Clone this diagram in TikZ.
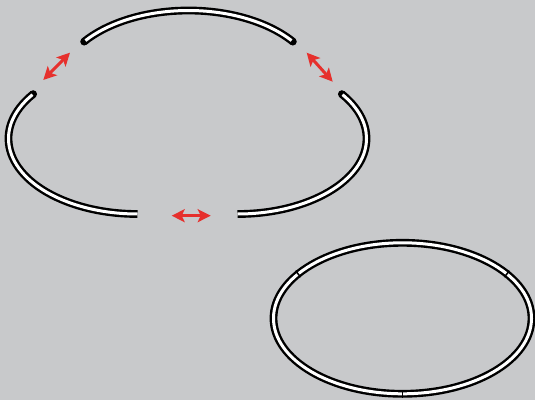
\documentclass[tikz,border=0pt]{standalone}
\usetikzlibrary{arrows.meta,calc}
\definecolor{bg}{HTML}{C8C9CB}
\definecolor{arr}{HTML}{E6302D}
\tikzset{
  outer/.style={line width=7.8pt,black},
  inner/.style={line width=3pt,white},
  gap/.style={{Stealth[length=13pt,width=13pt,inset=3pt]}-{Stealth[length=13pt,width=13pt,inset=3pt]},line width=3pt,arr},
  tickmark/.style={line width=1.5pt,black},
  capdot/.style={fill=black}
}
\newcommand\trackpiece[4]{% style, center, start, end
  \draw[#1] ($(#2)+(#3:129pt and 75.5pt)$) arc[start angle=#3,end angle=#4,x radius=129pt,y radius=75.5pt];
}
\begin{document}
\begin{tikzpicture}[x=1pt,y=1pt]
  \fill[bg] (0,0) rectangle (535,400);
  \useasboundingbox (0,0) rectangle (535,400);
  % centres
  \coordinate (CL) at (137.5,261.5);
  \coordinate (CR) at (237.5,261.5);
  \coordinate (CT) at (188.5,314);
  \coordinate (E)  at (402.5,81.7);
  % exploded pieces
  \trackpiece{outer}{CL}{144}{270}
  \trackpiece{outer}{CR}{-90}{36}
  \trackpiece{outer}{CT}{36}{144}
  \fill[capdot] ($(CL)+(144:129pt and 75.5pt)$) circle[radius=3.9pt];
  \fill[capdot] ($(CR)+(36:129pt and 75.5pt)$) circle[radius=3.9pt];
  \fill[capdot] ($(CT)+(36:129pt and 75.5pt)$) circle[radius=3.9pt];
  \fill[capdot] ($(CT)+(144:129pt and 75.5pt)$) circle[radius=3.9pt];
  \trackpiece{inner}{CL}{144.5}{270}
  \trackpiece{inner}{CR}{-90}{35.5}
  \trackpiece{inner}{CT}{37}{143}
  % assembled ring
  \draw[outer] (E) ellipse[x radius=129pt,y radius=75.5pt];
  \draw[inner] (E) ellipse[x radius=129pt,y radius=75.5pt];
  \coordinate (t1a) at (504.4,122.9); \coordinate (t1b) at (509.4,129.3);
  \coordinate (t2a) at (300.6,122.9); \coordinate (t2b) at (295.6,129.3);
  \coordinate (t3a) at (402.5,2.2);   \coordinate (t3b) at (402.5,10.2);
  \draw[tickmark] (t1a) -- (t1b);
  \draw[tickmark] (t2a) -- (t2b);
  \draw[tickmark] (t3a) -- (t3b);
  % separation arrows
  \coordinate (a1) at (43.3,320);  \coordinate (a2) at (70,347.3);
  \coordinate (b1) at (306.7,347.3); \coordinate (b2) at (332.7,318.3);
  \coordinate (c1) at (171.7,184.3); \coordinate (c2) at (210.7,184.3);
  \draw[gap] (a1) -- (a2);
  \draw[gap] (b1) -- (b2);
  \draw[gap] (c1) -- (c2);
\end{tikzpicture}
\end{document}
